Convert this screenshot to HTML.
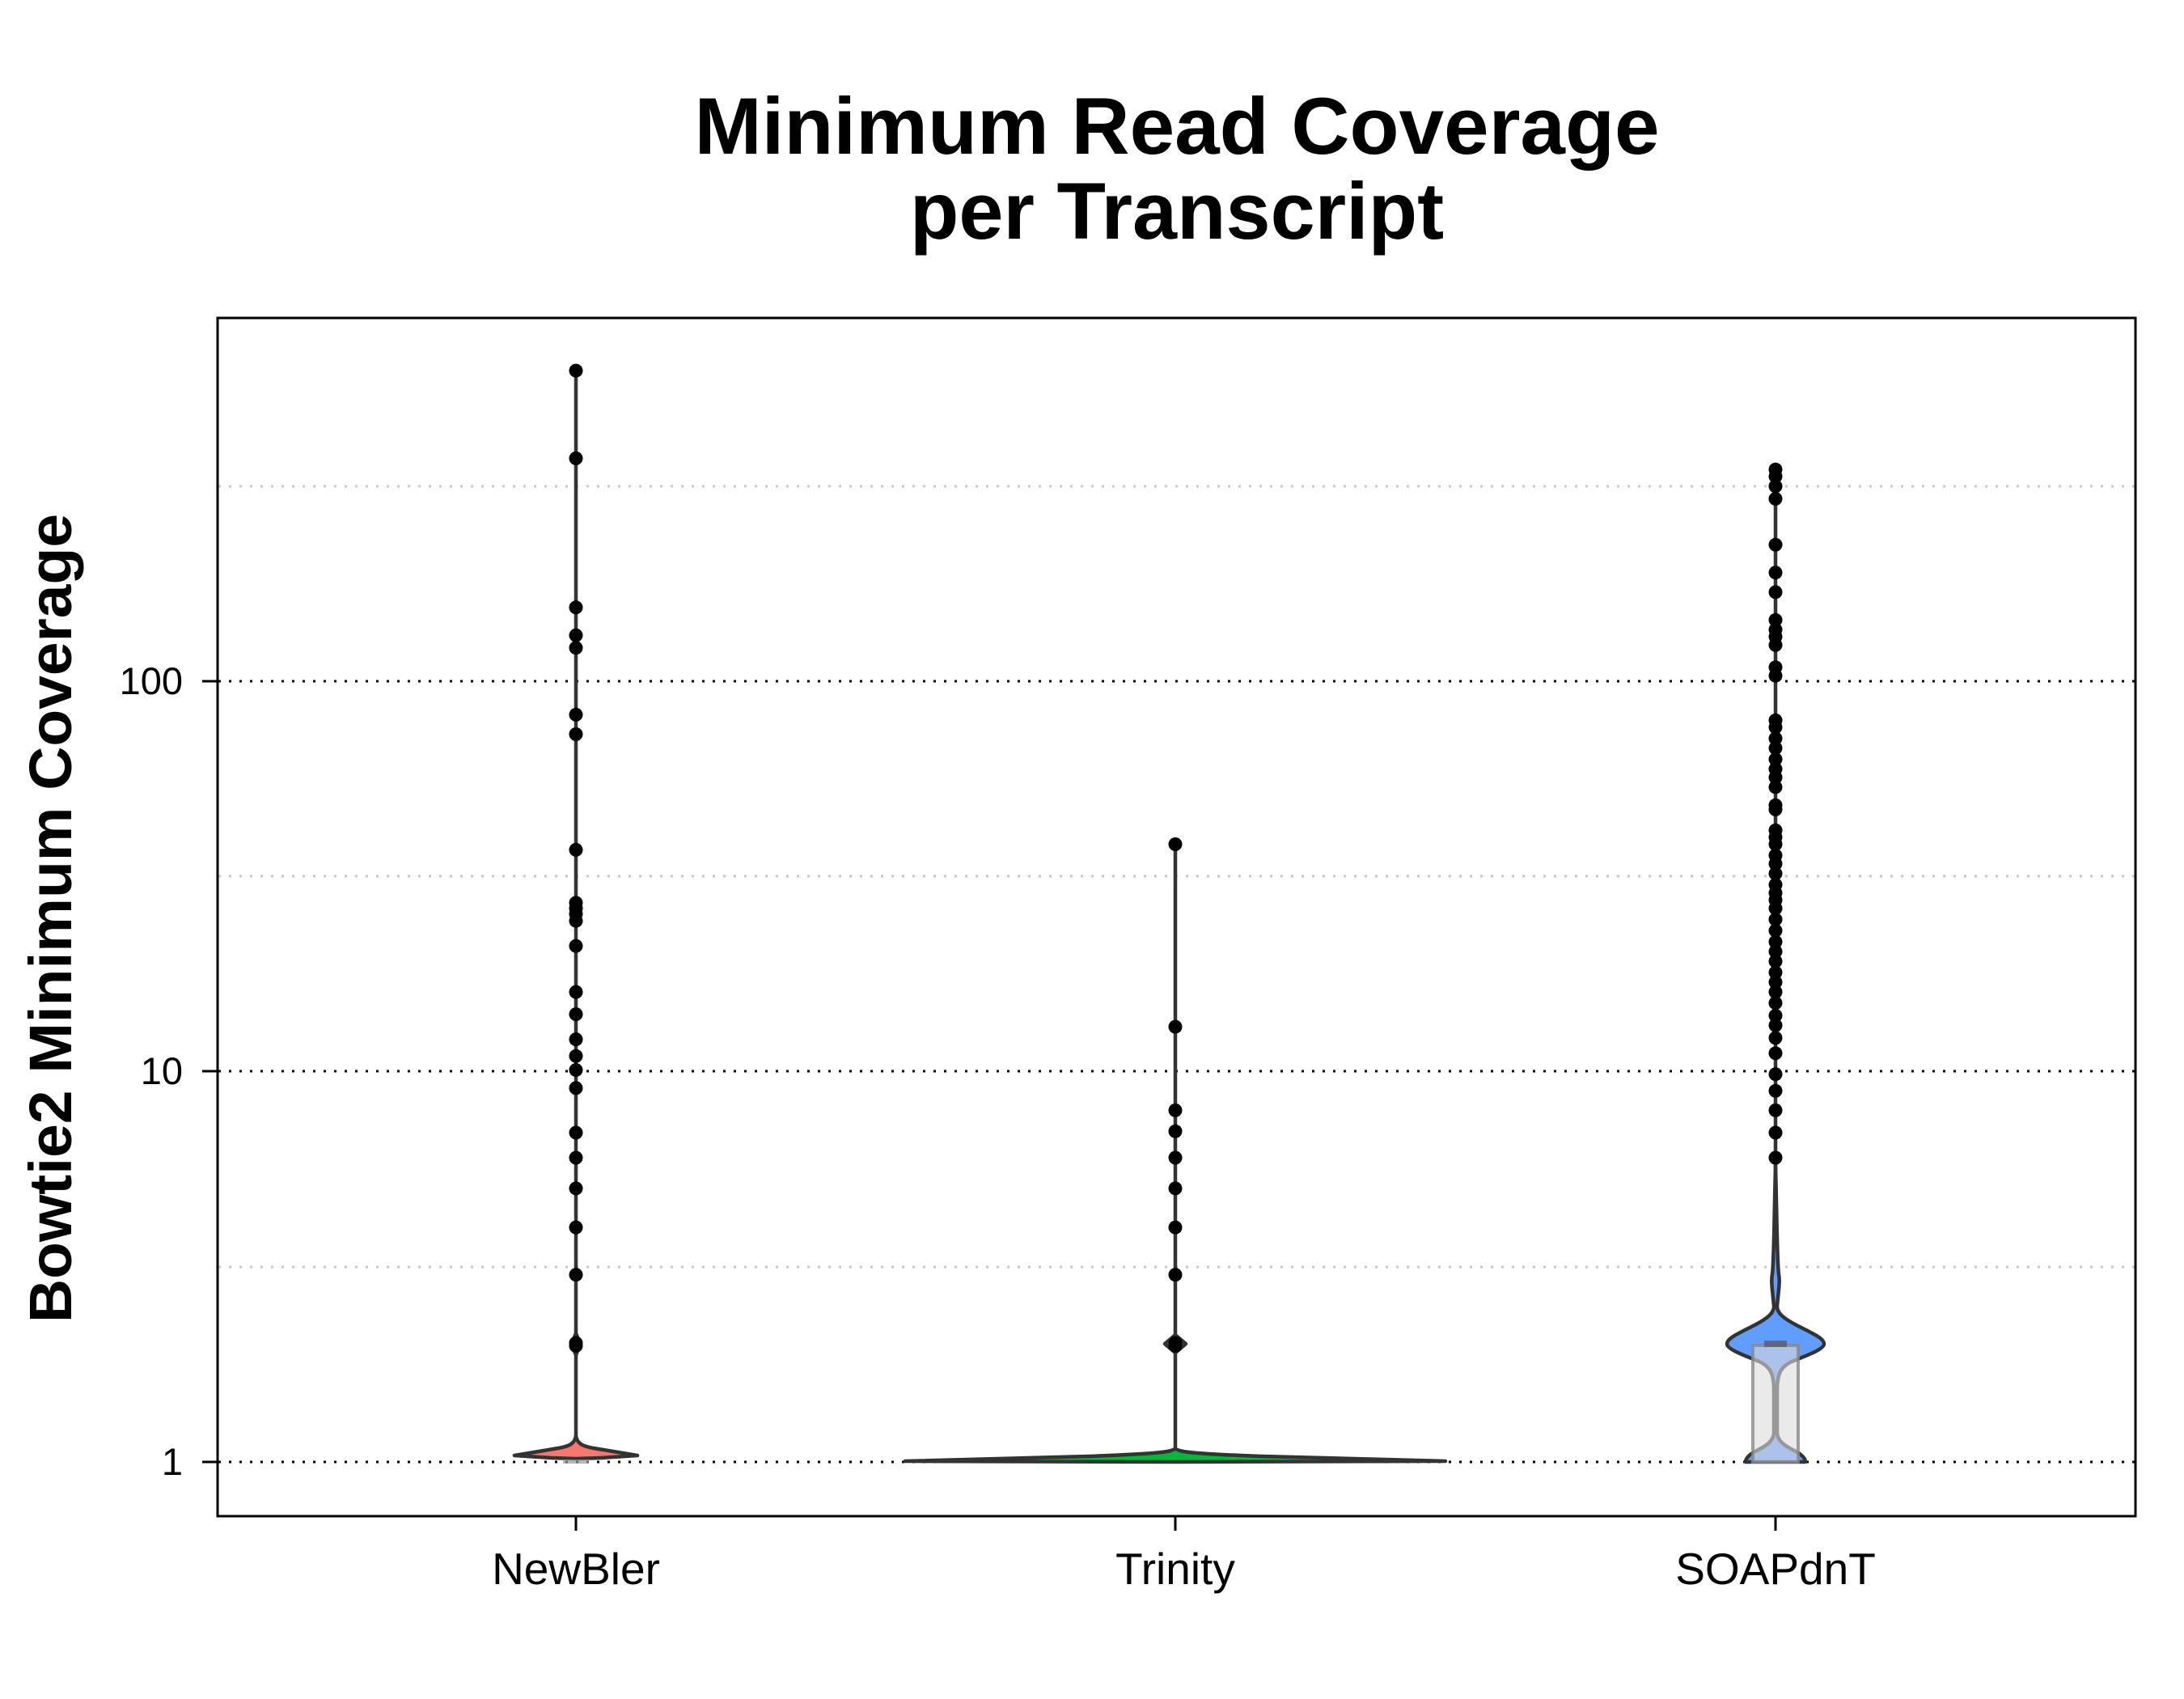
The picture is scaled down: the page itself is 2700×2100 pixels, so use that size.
<!DOCTYPE html>
<html><head><meta charset="utf-8"><style>html,body{margin:0;padding:0;background:#fff}svg{display:block}</style></head>
<body>
<svg width="2700" height="2100" viewBox="0 0 2700 2100" xmlns="http://www.w3.org/2000/svg" font-family="Liberation Sans, sans-serif">
<rect width="2700" height="2100" fill="#fff"/>
<text x="1455" y="190" font-size="99" font-weight="bold" text-anchor="middle" textLength="1193" lengthAdjust="spacingAndGlyphs">Minimum Read Coverage</text>
<text x="1455" y="295" font-size="99" font-weight="bold" text-anchor="middle">per Transcript</text>
<text transform="translate(88,1135) rotate(-90)" font-size="74" font-weight="bold" text-anchor="middle" textLength="1000" lengthAdjust="spacingAndGlyphs">Bowtie2 Minimum Coverage</text>
<!-- grid -->
<g stroke-dasharray="3,10" stroke-width="3">
<line x1="270" x2="2640" y1="601" y2="601" stroke="#c8c8c8"/>
<line x1="270" x2="2640" y1="1083" y2="1083" stroke="#c8c8c8"/>
<line x1="270" x2="2640" y1="1566" y2="1566" stroke="#c8c8c8"/>
<line x1="270" x2="2640" y1="842" y2="842" stroke="#000"/>
<line x1="270" x2="2640" y1="1324" y2="1324" stroke="#000"/>
<line x1="270" x2="2640" y1="1807" y2="1807" stroke="#000"/>
</g>
<!-- ticks -->
<g stroke="#000" stroke-width="3">
<line x1="250" x2="268" y1="842" y2="842"/><line x1="250" x2="268" y1="1324" y2="1324"/><line x1="250" x2="268" y1="1807" y2="1807"/>
<line x1="712" x2="712" y1="1874" y2="1892"/><line x1="1453" x2="1453" y1="1874" y2="1892"/><line x1="2195" x2="2195" y1="1874" y2="1892"/>
</g>
<g font-size="47" text-anchor="end">
<text x="226" y="858">100</text><text x="226" y="1340">10</text><text x="226" y="1823">1</text>
</g>
<g font-size="55" text-anchor="middle">
<text x="712" y="1958">NewBler</text><text x="1453" y="1958">Trinity</text><text x="2195" y="1958">SOAPdnT</text>
</g>
<g stroke="#333" stroke-width="4.5" stroke-linejoin="round">
<line x1="712" x2="712" y1="458" y2="1780"/>
<path d="M712,1775 C714,1785 720,1788 740,1791 L788,1799 L742,1802 L712,1803 L682,1802 L636,1799 L684,1791 C704,1788 710,1785 712,1775 Z" fill="#F8766D"/>
<path d="M712,1648 C716,1656 716,1666 712,1675 C708,1666 708,1656 712,1648 Z" fill="#F8766D"/>
<line x1="1453" x2="1453" y1="1043" y2="1790"/>
<path d="M1453,1790 C1456,1795 1480,1797 1560,1800 L1787,1806 L1453,1807 L1119,1806 L1346,1800 C1426,1797 1450,1795 1453,1790 Z" fill="#00BA38"/>
<path d="M1453,1650 L1466,1661 L1453,1672 L1440,1661 Z" fill="#00BA38"/>
<line x1="2195" x2="2195" y1="580" y2="1600"/>
<path d="M2195,1440 C2197,1520 2197,1560 2199,1575 C2201,1585 2198,1600 2197,1615 C2197,1623 2205,1630 2225,1640 C2245,1650 2255,1655 2255,1661 C2255,1667 2240,1673 2215,1683 C2200,1690 2197,1700 2197,1720 L2197,1770 C2197,1782 2208,1788 2222,1795 C2230,1800 2232,1804 2232,1807 L2158,1807 C2158,1804 2160,1800 2168,1795 C2182,1788 2193,1782 2193,1770 L2193,1720 C2193,1700 2190,1690 2175,1683 C2150,1673 2135,1667 2135,1661 C2135,1655 2145,1650 2165,1640 C2185,1630 2193,1623 2193,1615 C2192,1600 2189,1585 2191,1575 C2193,1560 2193,1520 2195,1440 Z" fill="#619CFF"/>
</g>
<rect x="2167" y="1663" width="56" height="144" fill="#dcdcdc" fill-opacity="0.6" stroke="#888" stroke-width="4" stroke-opacity="0.8"/>
<rect x="2181" y="1657" width="28" height="8" fill="#555" opacity="0.7"/>
<rect x="696" y="1804" width="32" height="5" fill="#999" opacity="0.7"/>
<g fill="#000" id="pts"></g>
<rect x="269" y="393" width="2371" height="1481" fill="none" stroke="#000" stroke-width="3"/>
<script>
(function(){
var f=1.722, g=document.getElementById('pts'), ns='http://www.w3.org/2000/svg';
var d={712:[266,329,436,456,465,513,527,610,648,652,656,661,679,712,728,746,758,768,781,813,831,853,881,915,964,966],
1453:[606,737,797,812,831,853,881,915,964,966],
2195:[337,342,349,358,391,411,425,445,452,457,463,479,485,517,522,530,537,545,552,558,565,578,581,596,601,606,614,620,627,635,641,646,652,660,668,676,683,690,698,705,712,720,729,736,745,756,771,783,797,813,831]};
for(var x in d){d[x].forEach(function(y){var c=document.createElementNS(ns,'circle');c.setAttribute('cx',x);c.setAttribute('cy',(y*f).toFixed(1));c.setAttribute('r',8.5);g.appendChild(c);});}
})();
</script>
</svg>
</body></html>
